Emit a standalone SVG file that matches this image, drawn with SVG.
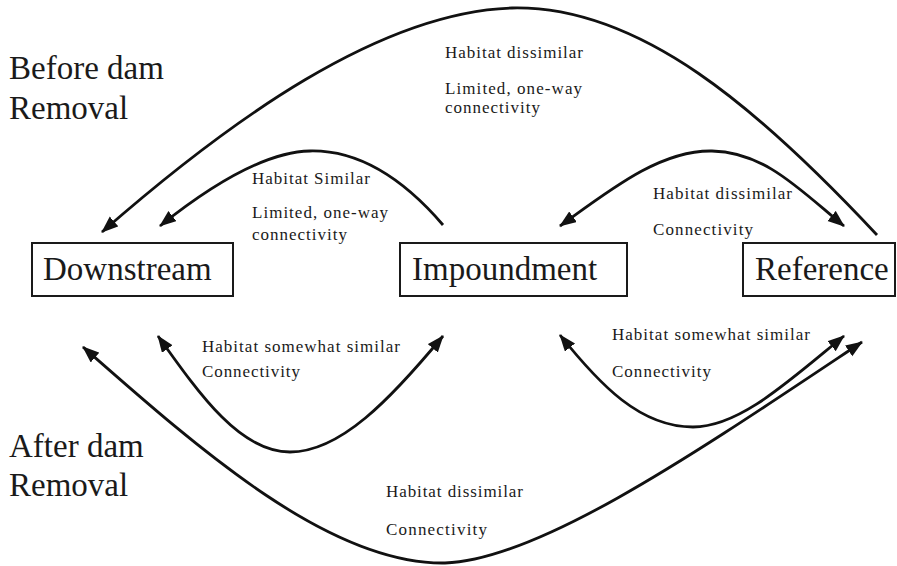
<svg xmlns="http://www.w3.org/2000/svg" width="897" height="566" viewBox="0 0 897 566">
<style>
.box{fill:#fff;stroke:#1a1a1a;stroke-width:2}
.big{font-family:"Liberation Serif","Times New Roman",serif;font-size:33px;fill:#1a1a1a}
.lbl{font-family:"Liberation Serif","Times New Roman",serif;font-size:17px;fill:#1a1a1a}
.c{fill:none;stroke:#111;stroke-width:2.8}
</style>
<defs>
<marker id="ah" markerUnits="userSpaceOnUse" markerWidth="18" markerHeight="14" refX="16" refY="6.5" orient="auto-start-reverse">
<path d="M0,0 L17,6.5 L0,13 z" fill="#111"/>
</marker>
</defs>
<rect width="897" height="566" fill="#fff"/>
<text class="big" x="9" y="79">Before dam</text>
<text class="big" x="9" y="119">Removal</text>
<text class="big" x="9" y="457">After dam</text>
<text class="big" x="9" y="496">Removal</text>
<g id="downstream"><rect class="box" x="32" y="243" width="201" height="53"/><text class="big" x="43" y="280">Downstream</text></g>
<g id="impoundment"><rect class="box" x="400" y="243" width="227" height="53"/><text class="big" x="412" y="280">Impoundment</text></g>
<g id="reference"><rect class="box" x="743" y="243" width="152" height="53"/><text class="big" x="755" y="280">Reference</text></g>
<g id="connectors">
<path class="c" d="M877,235 C760,110 640,5 512,8 C380,12 230,120 102,232" marker-end="url(#ah)"/>
<path class="c" d="M443,225 C400,175 355,150 310,151 C262,152 205,190 160,226" marker-end="url(#ah)"/>
<path class="c" d="M560,226 C610,190 660,150 712,151 C765,152 800,190 844,226" marker-start="url(#ah)" marker-end="url(#ah)"/>
<path class="c" d="M158,336 C200,395 240,452 290,452 C340,452 390,400 443,336" marker-start="url(#ah)" marker-end="url(#ah)"/>
<path class="c" d="M560,335 C600,385 640,427 693,427 C740,427 790,380 844,336" marker-start="url(#ah)" marker-end="url(#ah)"/>
<path class="c" d="M83,347 C200,450 330,565 445,563 C540,560 700,450 862,342" marker-start="url(#ah)" marker-end="url(#ah)"/>
</g>
<g id="labels">
<text class="lbl" x="445" y="58" textLength="138">Habitat dissimilar</text>
<text class="lbl" x="445" y="94" textLength="137">Limited, one-way</text>
<text class="lbl" x="445" y="113" textLength="95">connectivity</text>
<text class="lbl" x="252" y="184" textLength="118">Habitat Similar</text>
<text class="lbl" x="252" y="218" textLength="136">Limited, one-way</text>
<text class="lbl" x="252" y="240" textLength="95">connectivity</text>
<text class="lbl" x="653" y="199" textLength="139">Habitat dissimilar</text>
<text class="lbl" x="653" y="235" textLength="100">Connectivity</text>
<text class="lbl" x="202" y="352" textLength="198">Habitat somewhat similar</text>
<text class="lbl" x="202" y="377" textLength="98">Connectivity</text>
<text class="lbl" x="612" y="340" textLength="198">Habitat somewhat similar</text>
<text class="lbl" x="612" y="377" textLength="99">Connectivity</text>
<text class="lbl" x="386" y="497" textLength="137">Habitat dissimilar</text>
<text class="lbl" x="386" y="535" textLength="101">Connectivity</text>
</g>
</svg>
